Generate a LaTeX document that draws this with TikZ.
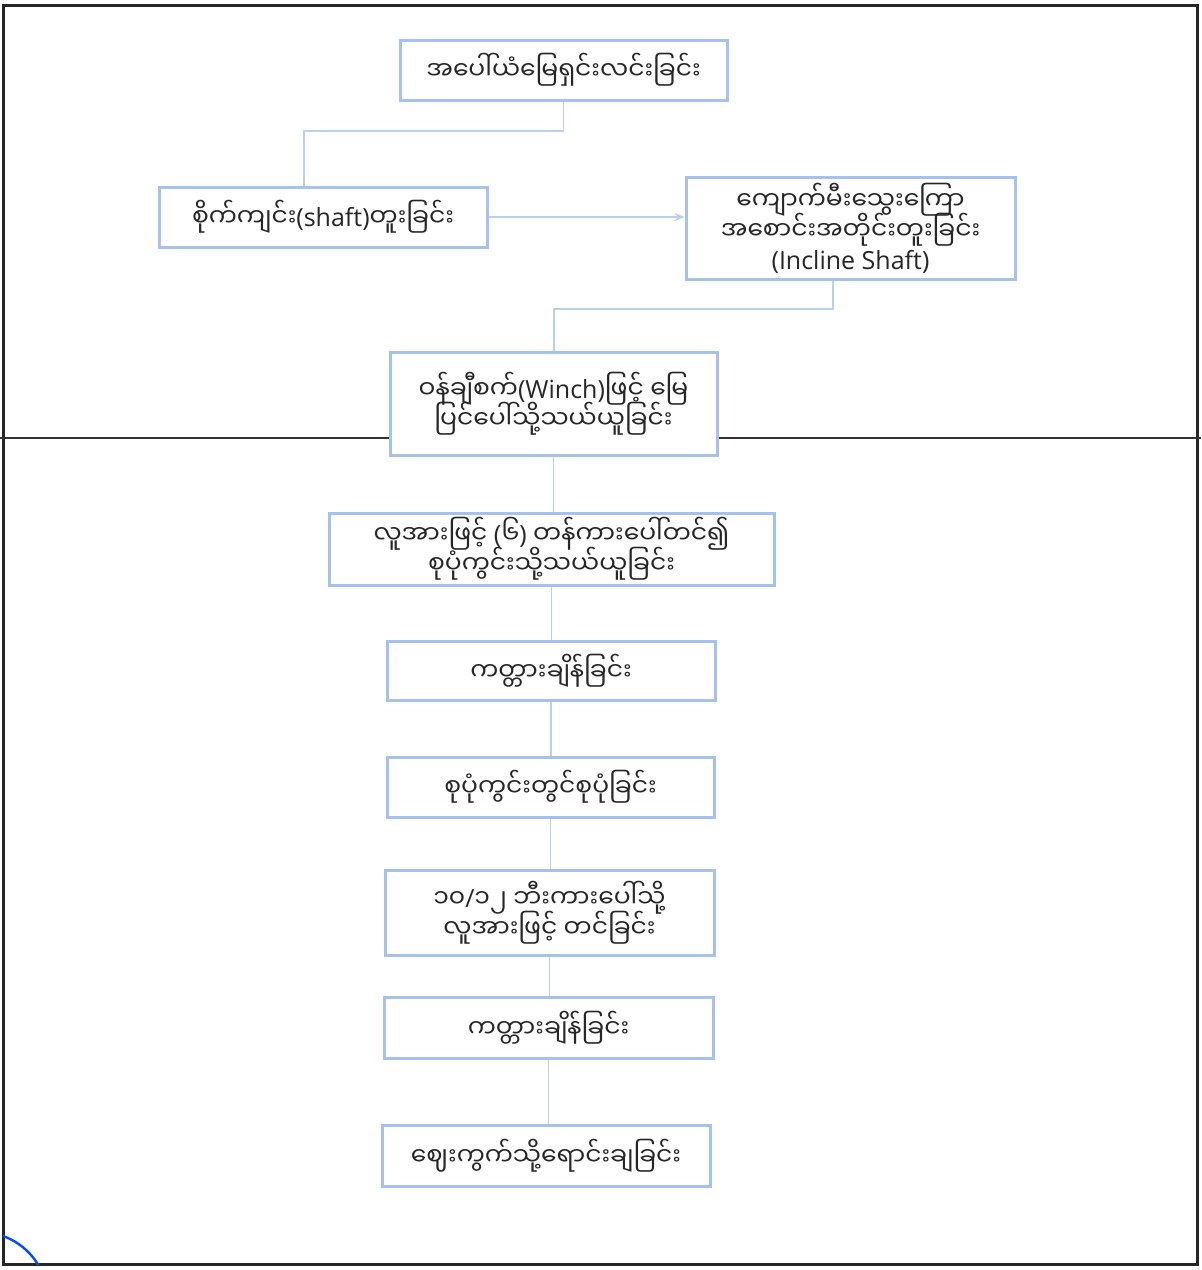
\documentclass[tikz,border=0pt]{standalone}
\usepackage{fontspec}
\setmainfont{Open Sans}
\newfontfamily\my[Script=Myanmar]{Noto Sans Myanmar UI}
\usetikzlibrary{arrows.meta}
\definecolor{boxblue}{HTML}{A6C2EC}
\definecolor{lineblue}{HTML}{B8CFF0}
\newcommand\tightlines{\lineskiplimit=-20pt\relax\lineskip=0pt\relax}
\tikzset{
  flowbox/.style={draw=boxblue, line width=1.5pt, fill=white, inner sep=0pt, align=center,
    font=\fontsize{12.5}{15}\selectfont\tightlines, text=black!85},
  link/.style={draw=lineblue, line width=0.7pt},
}
\begin{document}
\begin{tikzpicture}[x=0.5pt,y=-0.5pt]
\useasboundingbox (0,0) rectangle (1201,1270);
\fill[white] (0,0) rectangle (1201,1270);
% frame
\draw[black!85, line width=1.5pt] (3,5) rectangle (1197,1264);
% scan line
\draw[black!80, line width=0.7pt] (0,438) -- (1201,438);
% corner arc
\begin{scope}
\clip (3,1200) rectangle (60,1264);
\draw[blue!70!cyan, line width=1.2pt] (-20,1300) circle[radius=68];
\end{scope}

\node[flowbox, minimum width=163.5pt, minimum height=30pt] (b1) at (563.5,70) {\my အပေါ်ယံမြေရှင်းလင်းခြင်း};
\node[flowbox, minimum width=164pt, minimum height=30pt] (b2) at (323,217) {{\my စိုက်ကျင်း}(shaft){\my တူးခြင်း}};
\node[flowbox, minimum width=164.5pt, minimum height=51pt] (b3) at (850.5,228) {{\my ကျောက်မီးသွေးကြော}\\{\my အစောင်းအတိုင်းတူးခြင်း}\\(Incline Shaft)};
\node[flowbox, minimum width=163.5pt, minimum height=51.5pt] (b4) at (553.5,403.5) {{\my ဝန်ချီစက်}(Winch){\my ဖြင့် မြေ}\\{\my ပြင်ပေါ်သို့သယ်ယူခြင်း}};
\node[flowbox, minimum width=222.5pt, minimum height=36pt] (b5) at (551.5,549) {{\my လူအားဖြင့်} ({\my ၆}) {\my တန်ကားပေါ်တင်၍}\\{\my စုပုံကွင်းသို့သယ်ယူခြင်း}};
\node[flowbox, minimum width=164pt, minimum height=29.5pt] (b6) at (551,670.5) {\my ကတ္တားချိန်ခြင်း};
\node[flowbox, minimum width=163.5pt, minimum height=30pt] (b7) at (550.5,787) {\my စုပုံကွင်းတွင်စုပုံခြင်း};
\node[flowbox, minimum width=164.5pt, minimum height=42.5pt] (b8) at (549.5,912.5) {{\my ၁၀}/{\my ၁၂ ဘီးကားပေါ်သို့}\\{\my လူအားဖြင့် တင်ခြင်း}};
\node[flowbox, minimum width=164.5pt, minimum height=30.5pt] (b9) at (548.5,1027.5) {\my ကတ္တားချိန်ခြင်း};
\node[flowbox, minimum width=164pt, minimum height=30.5pt] (b10) at (546,1155.5) {\my ဈေးကွက်သို့ရောင်းချခြင်း};

\coordinate (j1) at (304,131);
\coordinate (j2) at (833,309);
\coordinate (j3) at (554,309);

\draw[link] (b1.south) |- (j1) -- (j1 |- b2.north);
\draw[link, -{Stealth[length=5pt,width=4pt]}] (b2.east) -- (b2.east -| b3.west);
\draw[link] (j2 |- b3.south) -- (j2) -- (j3) -- (j3 |- b4.north);
\draw[link] (b4.south) -- (b4.south |- b5.north);
\draw[link] (b5.south) -- (b5.south |- b6.north);
\draw[link] (b6.south) -- (b6.south |- b7.north);
\draw[link] (b7.south) -- (b7.south |- b8.north);
\draw[link] (b8.south) -- (b8.south |- b9.north);
\draw[link] (b9.south) -- (b9.south |- b10.north);
\end{tikzpicture}
\end{document}
